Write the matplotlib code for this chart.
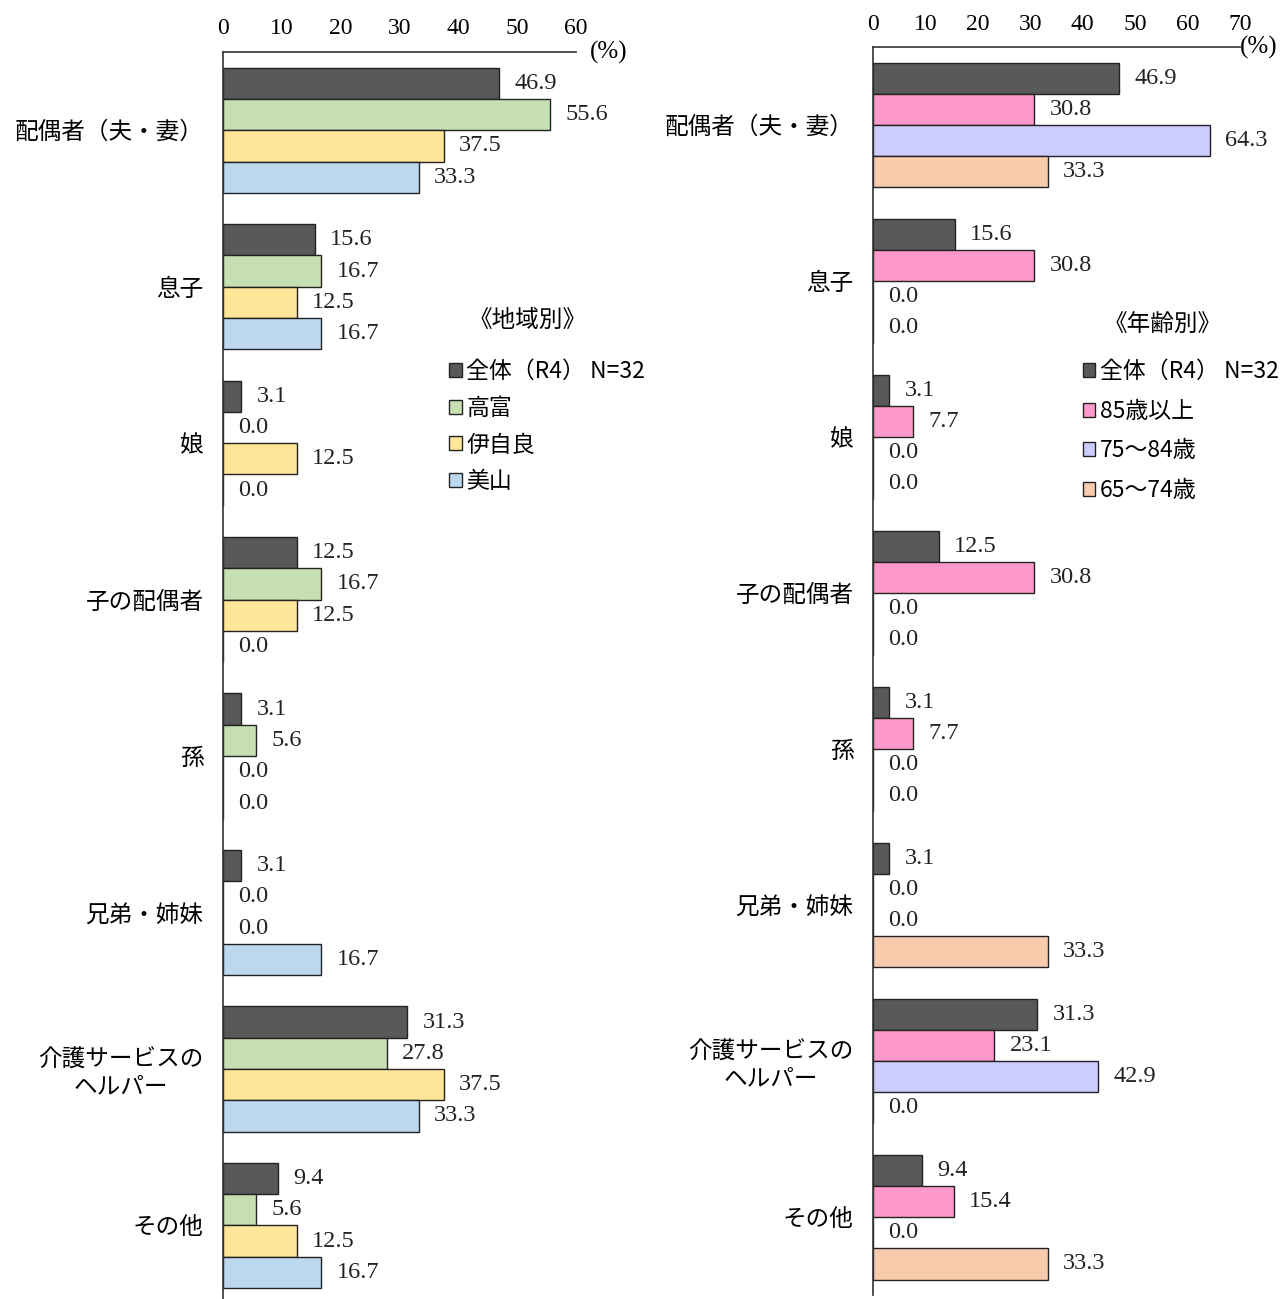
import matplotlib
matplotlib.use('Agg')
import matplotlib.pyplot as plt
from matplotlib.patches import Patch
import numpy as np

plt.rcParams['font.family'] = ['Noto Sans CJK JP', 'DejaVu Sans']

# categories (top to bottom)
categories = ['配偶者（夫・妻）', '息子', '娘', '子の配偶者', '孫', '兄弟・姉妹',
              '介護サービスの\nヘルパー', 'その他']

# left panel: by region
region_labels = ['全体（R4） N=32', '高富', '伊自良', '美山']
total = [46.9, 15.6, 3.1, 12.5, 3.1, 3.1, 31.3, 9.4]
takatomi = [55.6, 16.7, 0.0, 16.7, 5.6, 0.0, 27.8, 5.6]
ijira = [37.5, 12.5, 12.5, 12.5, 0.0, 0.0, 37.5, 12.5]
miyama = [33.3, 16.7, 0.0, 0.0, 0.0, 16.7, 33.3, 16.7]
region_colors = ['#595959', '#C6E0B4', '#FFE699', '#BDD7EE']

# right panel: by age
age_labels = ['全体（R4） N=32', '85歳以上', '75～84歳', '65～74歳']
age85 = [30.8, 30.8, 7.7, 30.8, 7.7, 0.0, 23.1, 15.4]
age75 = [64.3, 0.0, 0.0, 0.0, 0.0, 0.0, 42.9, 0.0]
age65 = [33.3, 0.0, 0.0, 0.0, 0.0, 33.3, 0.0, 33.3]
age_colors = ['#595959', '#FF99CC', '#CCCCFF', '#F8CBAD']

num_font = 'Liberation Serif'

fig = plt.figure(figsize=(12.86, 12.99), dpi=100)


def draw_panel(ax, series, colors, labels, xmax, title, ylim_bottom, title_pos, leg_anchor, leg_spacing):
    y = np.arange(len(categories))
    h = 0.2
    offsets = [-0.3, -0.1, 0.1, 0.3]
    for vals, col, off in zip(series, colors, offsets):
        bars = ax.barh(y + off, vals, height=h, color=col, edgecolor='#222222', linewidth=1.0)
        for b, v in zip(bars, vals):
            ax.annotate(f'{v:.1f}', (b.get_width(), b.get_y() + b.get_height() / 2),
                        xytext=(11, 0), textcoords='offset points', ha='left', va='center',
                        fontsize=17.5, family=num_font, color='#222222')
    ax.set_xlim(0, xmax)
    ax.set_ylim(ylim_bottom, -0.5)
    ax.set_yticks(y)
    ax.set_yticklabels(categories, fontsize=17, multialignment='center')
    ax.tick_params(axis='y', length=0, pad=14)
    ax.xaxis.tick_top()
    ax.set_xticks(np.arange(0, xmax + 1, 10))
    ax.tick_params(axis='x', length=0, pad=9, labelsize=17)
    for t in ax.get_xticklabels():
        t.set_family(num_font)
    for s in ['right', 'bottom']:
        ax.spines[s].set_visible(False)
    for s in ['left', 'top']:
        ax.spines[s].set_color('#333333')
        ax.spines[s].set_linewidth(1.2)
    ax.text(title_pos[0], title_pos[1], title, transform=ax.transAxes,
            ha='center', va='center', fontsize=17)
    handles = [Patch(facecolor=c, edgecolor='#222222', linewidth=1.0) for c in colors]
    ax.legend(handles, labels, loc='upper left', bbox_to_anchor=leg_anchor,
              frameon=False, fontsize=16.5,
              handlelength=0.55, handleheight=0.55, handletextpad=0.2,
              labelspacing=leg_spacing, borderaxespad=0, borderpad=0)


ax1 = fig.add_axes([223 / 1286, 0.0, 353 / 1286, 1 - 52 / 1299])
draw_panel(ax1, [total, takatomi, ijira, miyama], region_colors, region_labels,
           60, '《地域別》', 7.47, (0.864, 0.785), (0.641, 0.753), 0.6)
ax1.text(1.04, 1.0, '(%)', transform=ax1.transAxes, ha='left', va='center',
         fontsize=18, family=num_font)

ax2 = fig.add_axes([873 / 1286, 0.003, 367 / 1286, 1 - 47 / 1299 - 0.003])
draw_panel(ax2, [total, age85, age75, age65], age_colors, age_labels,
           70, '《年齢別》', 7.5, (0.79, 0.777), (0.571, 0.749), 0.72)
ax2.text(1.0, 1.0, '(%)', transform=ax2.transAxes, ha='left', va='center',
         fontsize=18, family=num_font)

fig.savefig('out.png', dpi=100)
